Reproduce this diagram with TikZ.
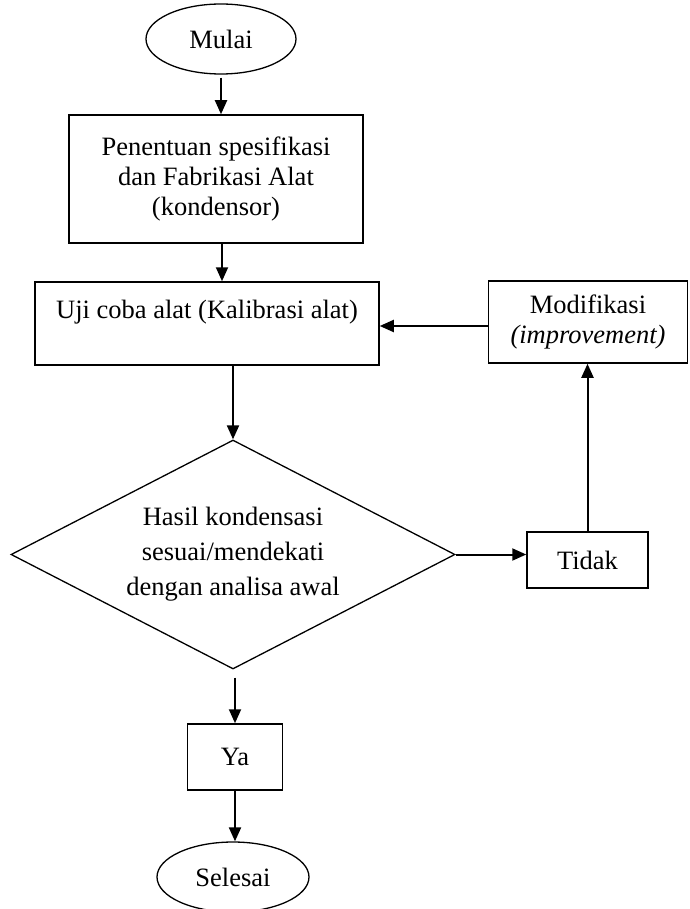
\documentclass[tikz,border=0pt]{standalone}
\usepackage{fontspec}
\setmainfont{Liberation Serif}
\usetikzlibrary{shapes.geometric,arrows.meta}
\tikzset{
  base/.style={draw=black, line width=1.5pt, inner sep=0pt, font=\fontsize{26.5}{30}\selectfont, align=center},
  boxnode/.style={base, rectangle},
  ovalnode/.style={base, ellipse, line width=1.3pt},
  decision/.style={base, diamond, line width=1.3pt, aspect=1.94, font=\fontsize{26.5}{35}\selectfont},
  txt/.style={inner sep=0pt, font=\fontsize{26.5}{33}\selectfont, align=center},
  flow/.style={line width=2pt, -{Triangle[length=14pt,width=12pt]}}
}
\begin{document}
\begin{tikzpicture}[x=1pt,y=-1pt]
\useasboundingbox (0,0) rectangle (689,909);
\node[ovalnode, minimum width=150pt, minimum height=70pt] (mulai) at (221,39) {Mulai};
\node[boxnode, minimum width=294pt, minimum height=128pt] (pen) at (216,179)
  {Penentuan spesifikasi\\dan Fabrikasi Alat\\(kondensor)};
\node[boxnode, minimum width=344pt, minimum height=83pt] (uji) at (207,323.5) {};
\node[txt] (ujit) at (207,312) {Uji coba alat (Kalibrasi alat)};
\node[boxnode, minimum width=199pt, minimum height=82pt] (mod) at (588,322)
  {Modifikasi\\\textit{(improvement)}};
\node[decision, minimum width=444pt, minimum height=229pt] (dia) at (233,554.5)
  {Hasil kondensasi\\sesuai/mendekati\\dengan analisa awal};
\node[boxnode, minimum width=121pt, minimum height=56pt] (tidak) at (587.5,560) {Tidak};
\node[boxnode, minimum width=95pt, minimum height=66pt] (ya) at (235,757) {Ya};
\node[ovalnode, minimum width=152pt, minimum height=70pt] (selesai) at (233,877) {Selesai};

\draw[flow] ([yshift=-3pt]mulai.south) -- (mulai.south |- pen.north);
\draw[flow] ([xshift=6pt]pen.south) -- ([xshift=6pt]pen.south |- uji.north);
\draw[flow] (dia.north |- uji.south) -- (dia.north);
\draw[flow] (dia.east) -- (dia.east -| tidak.west);
\draw[flow] (tidak.north) -- (tidak.north |- mod.south);
\draw[flow] ([yshift=-4pt]mod.west) -- ([yshift=-4pt]mod.west -| uji.east);
\draw[flow] ([yshift=-8pt]dia.south -| ya.north) -- (ya.north);
\draw[flow] (ya.south) -- (ya.south |- selesai.north);
\end{tikzpicture}
\end{document}
